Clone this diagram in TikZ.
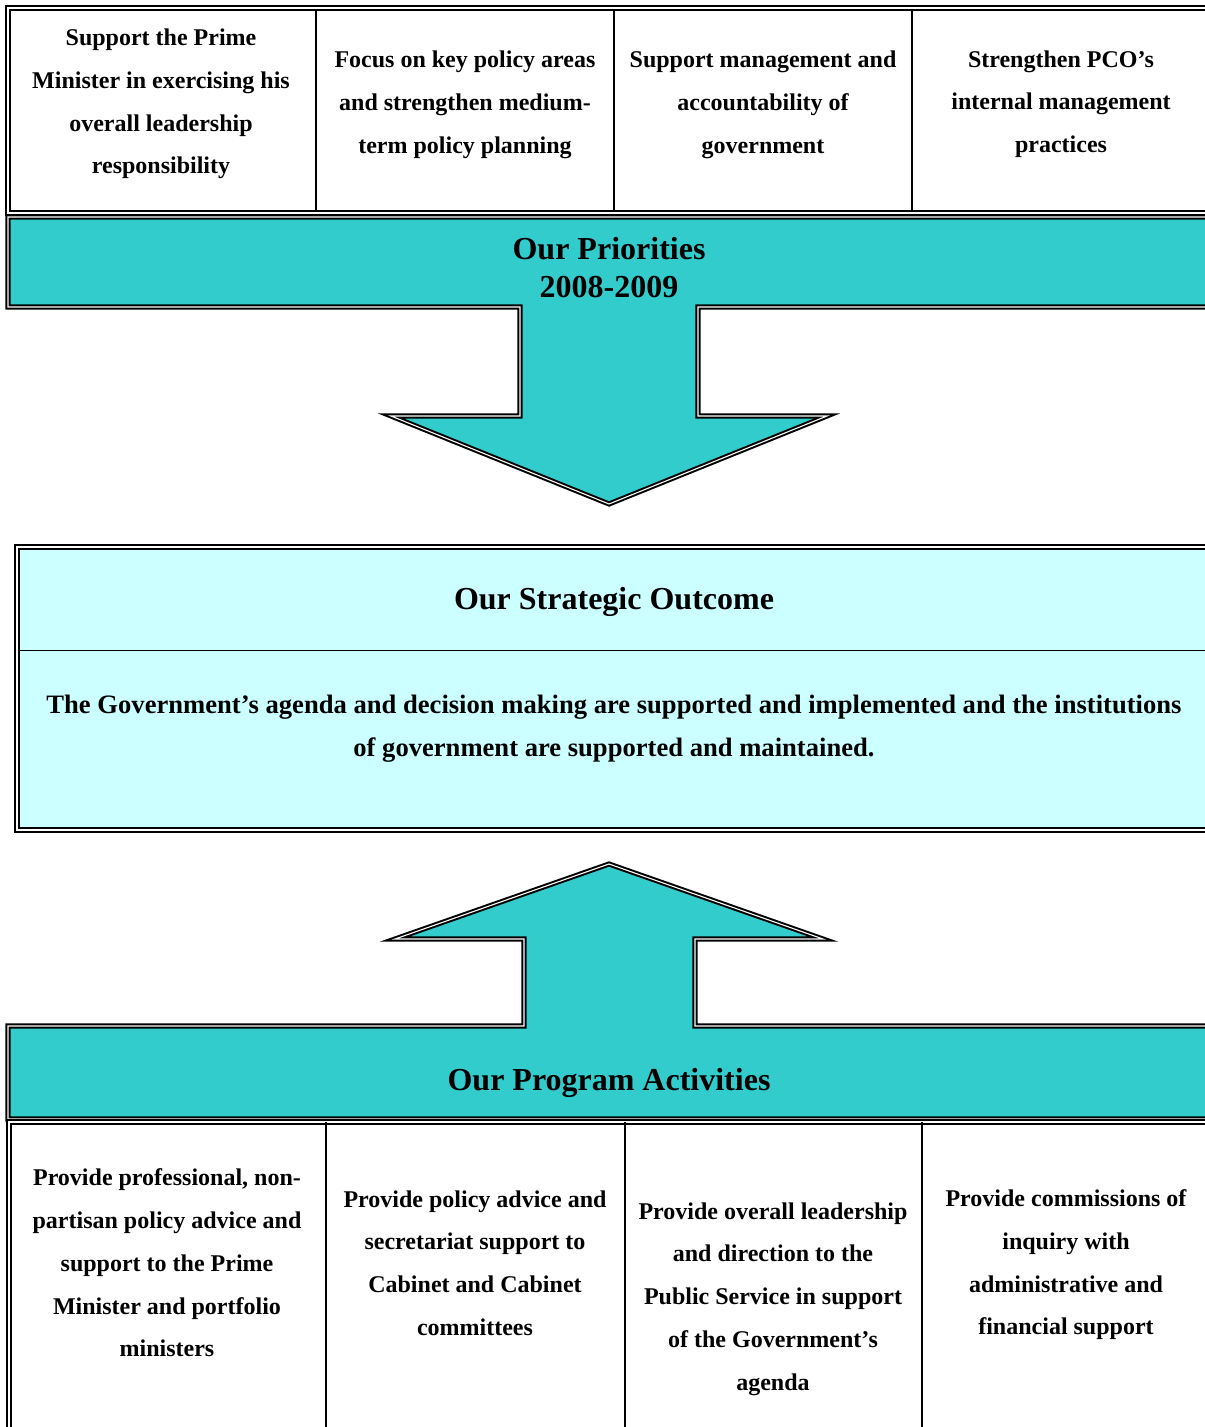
\documentclass[tikz,border=0pt]{standalone}
\usepackage{fontspec}
\setmainfont{Liberation Serif}
\usepackage{tikz}
\usetikzlibrary{positioning,calc}
\definecolor{bandcyan}{RGB}{51,204,204}
\definecolor{outcyan}{RGB}{204,255,255}

\begin{document}
\begin{tikzpicture}[
      x=0.5pt,y=-0.5pt,
      every node/.style={font=\bfseries\fontsize{12}{21.35}\selectfont,align=center,inner sep=0pt},
      dbl/.style={draw=black,line width=1pt,double=white,double distance=0.55pt},
      cellrule/.style={draw=black,line width=0.75pt},
      head/.style={font=\bfseries\fontsize{16}{19}\selectfont},
    ]
    \useasboundingbox (0,0) rectangle (1204,1427);

    % top table: priorities
    \draw[dbl] (8,8) rectangle (1220,213);
    \foreach \x in {316,614,912}
      \draw[cellrule] (\x,10) -- (\x,212);
    \node (p1) at (161,104) {Support the Prime\\Minister in exercising his\\overall leadership\\responsibility};
    \node (p2) at (465,105) {Focus on key policy areas\\and strengthen medium-\\term policy planning};
    \node (p3) at (763,105) {Support management and\\accountability of\\government};
    \node (p4) at (1061,104) {Strengthen PCO’s\\internal management\\practices};

    % band with arrow down
    \draw[dbl,fill=bandcyan] (8,217) -- (1220,217) -- (1220,307) -- (698,307) -- (698,416)
      -- (827,416) -- (609,504) -- (391,416) -- (520,416) -- (520,307) -- (8,307) -- cycle;
    \node[head] (prio) at (609,268) {Our Priorities\\2008-2009};

    % strategic outcome
    \draw[dbl,fill=outcyan] (17,547) rectangle (1220,830);
    \draw[cellrule,line width=0.5pt] (19,650) -- (1220,650);
    \node[head] (outt) at (614,602) {Our Strategic Outcome};
    \node[font=\bfseries\fontsize{13.3}{21.35}\selectfont] (outc) at (614,729) {The Government’s agenda and decision making are supported and implemented and the institutions\\of government are supported and maintained.};

    % band with arrow up
    \draw[dbl,fill=bandcyan] (8,1119) -- (8,1026) -- (524,1026) -- (524,939) -- (395,939)
      -- (609,864) -- (823,939) -- (695,939) -- (695,1026) -- (1220,1026) -- (1220,1119) -- cycle;
    \node[head] (prog) at (609,1083) {Our Program Activities};

    % bottom table: program activities
    \draw[dbl] (9,1122) rectangle (1220,1450);
    \foreach \x in {326,625,922}
      \draw[cellrule] (\x,1122) -- (\x,1430);
    \node (a1) at (167,1263) {Provide professional, non-\\partisan policy advice and\\support to the Prime\\Minister and portfolio\\ministers};
    \node (a2) at (475,1263) {Provide policy advice and\\secretariat support to\\Cabinet and Cabinet\\committees};
    \node (a3) at (773,1299) {Provide overall leadership\\and direction to the\\Public Service in support\\of the Government’s\\agenda};
    \node (a4) at (1066,1265) {Provide commissions of\\inquiry with\\administrative and\\financial support};
  \end{tikzpicture}
\end{document}
